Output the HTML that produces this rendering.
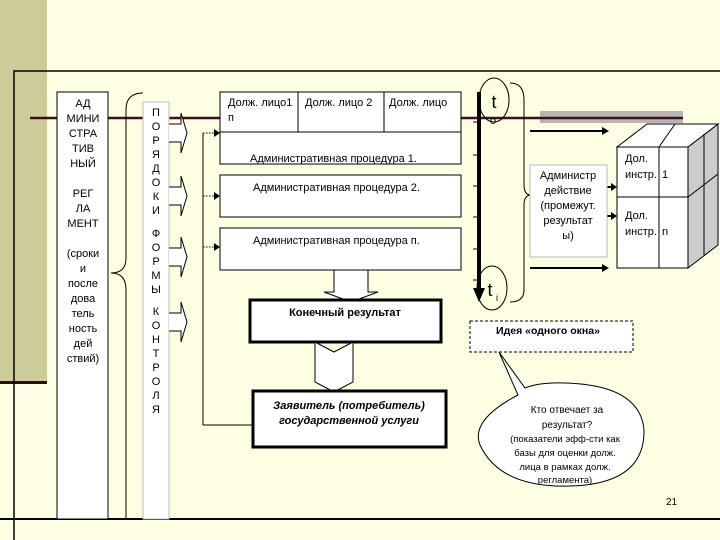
<!DOCTYPE html>
<html><head><meta charset="utf-8"><style>
html,body{margin:0;padding:0;background:#fefee2}
svg{display:block;font-family:"Liberation Sans",sans-serif;font-size:11px}
</style></head><body>
<svg width="720" height="540" viewBox="0 0 720 540" xmlns="http://www.w3.org/2000/svg" font-size="11" font-family="Liberation Sans, sans-serif">
<rect width="720" height="540" fill="#fefee2"/>
<rect x="0" y="0" width="47" height="383" fill="#cccc99"/>
<rect x="0" y="381" width="47" height="3" fill="#2b0b1a"/>
<path d="M14 540 V71 H720" fill="none" stroke="#000" stroke-width="1.5"/>
<line x1="0" y1="519" x2="720" y2="519" stroke="#000" stroke-width="2"/>
<rect x="540" y="111" width="143" height="12" fill="#b8b4b0"/>
<line x1="30" y1="118" x2="683" y2="118" stroke="#3b0f1f" stroke-width="2.5"/>

<!-- ADM box -->
<rect x="57" y="92" width="51" height="427" fill="#fff" stroke="#000"/>
<g text-anchor="middle">
<text x="83" y="107">АД</text><text x="83" y="122">МИНИ</text><text x="83" y="137">СТРА</text><text x="83" y="152">ТИВ</text><text x="83" y="167">НЫЙ</text>
<text x="83" y="197">РЕГ</text><text x="83" y="212">ЛА</text><text x="83" y="227">МЕНТ</text>
<text x="83" y="257">(сроки</text><text x="83" y="272">и</text><text x="83" y="287">после</text><text x="83" y="302">дова</text><text x="83" y="317">тель</text><text x="83" y="332">ность</text><text x="83" y="347">дей</text><text x="83" y="362">ствий)</text>
</g>
<path d="M143 93 Q126 93 126 110 V258 Q126 273 111 273 Q126 273 126 290 V519" fill="none" stroke="#000"/>
<rect x="143" y="102" width="26" height="417" fill="#fff" stroke="#bbb"/>
<g text-anchor="middle">
<text x="156" y="116">П</text><text x="156" y="130">О</text><text x="156" y="144">Р</text><text x="156" y="158">Я</text><text x="156" y="172">Д</text><text x="156" y="186">О</text><text x="156" y="200">К</text><text x="156" y="214">И</text>
<text x="156" y="237">Ф</text><text x="156" y="251">О</text><text x="156" y="265">Р</text><text x="156" y="279">М</text><text x="156" y="293">Ы</text>
<text x="156" y="315">К</text><text x="156" y="329">О</text><text x="156" y="343">Н</text><text x="156" y="357">Т</text><text x="156" y="371">Р</text><text x="156" y="385">О</text><text x="156" y="399">Л</text><text x="156" y="413">Я</text>
</g>
<g fill="#fff" stroke="#000">
<path d="M169 124 H181 V113 L187 133 L181 153 V142 H169"/>
<path d="M169 187 H181 V176 L187 196 L181 216 V205 H169"/>
<path d="M169 248 H181 V237 L187 257 L181 277 V266 H169"/>
<path d="M169 313 H181 V302 L187 322 L181 342 V331 H169"/>
</g>
<path d="M203 425 V133 M203 425 H253" fill="none" stroke="#000"/>
<g stroke="#000" stroke-dasharray="1.5 1.5"><line x1="203" y1="133" x2="215" y2="133"/><line x1="203" y1="196" x2="215" y2="196"/><line x1="203" y1="247" x2="215" y2="247"/></g>
<g fill="#000"><path d="M214 129 L220 133 L214 137Z"/><path d="M214 192 L220 196 L214 200Z"/><path d="M214 243 L220 247 L214 251Z"/></g>
<g fill="#fff" stroke="#000">
<rect x="220" y="92" width="241" height="72"/>
<rect x="220" y="175" width="241" height="42"/>
<rect x="220" y="228" width="241" height="42"/>
</g>
<path d="M220 132 H461 M298 92 V132 M384 92 V132" stroke="#000" fill="none"/>
<text x="228" y="106">Долж. лицо1</text><text x="228" y="121">п</text>
<text x="305" y="106">Долж. лицо 2</text><text x="389" y="106">Долж. лицо</text>
<text x="250" y="162">Административная процедура 1.</text>
<text x="253" y="191">Административная процедура 2.</text>
<text x="253" y="244">Административная процедура п.</text>
<path d="M334 270 H368 V292 H378 L351 302 L324 292 H334Z" fill="#fff" stroke="#000"/>
<rect x="250" y="300" width="191" height="42" fill="#fff" stroke="#000" stroke-width="3"/>
<text x="345" y="316" text-anchor="middle" font-weight="bold">Конечный результат</text>
<path d="M315 342 L334 352 L353 342 V382 L334 392 L315 382Z" fill="#fff" stroke="#000"/>
<rect x="253" y="391" width="193" height="56" fill="#fff" stroke="#000" stroke-width="3"/>
<text x="349" y="409" text-anchor="middle" font-weight="bold" font-style="italic">Заявитель (потребитель)</text>
<text x="349" y="424" text-anchor="middle" font-weight="bold" font-style="italic">государственной услуги</text>
<g stroke="#000"><line x1="473" y1="122" x2="479" y2="122"/><line x1="473" y1="155" x2="479" y2="155"/><line x1="473" y1="186" x2="479" y2="186"/><line x1="473" y1="217" x2="479" y2="217"/><line x1="473" y1="249" x2="479" y2="249"/><line x1="473" y1="280" x2="479" y2="280"/></g>
<line x1="479" y1="92" x2="479" y2="290" stroke="#000" stroke-width="4"/>
<path d="M473 288 L485 288 L479 302Z" fill="#000"/>
<ellipse cx="494" cy="100" rx="15" ry="22" fill="none" stroke="#000"/>
<text x="494" y="108" text-anchor="middle" font-size="18">t</text><text x="493" y="124" text-anchor="middle" font-size="11">o</text>
<ellipse cx="492" cy="288" rx="15" ry="22" fill="none" stroke="#000"/>
<text x="490" y="296" text-anchor="middle" font-size="18">t</text><text x="496" y="301" font-size="9">i</text>
<path d="M510 83 Q524 83 524 100 V185 Q524 195 531 195 Q524 195 524 205 V290 Q524 302 510 302" fill="none" stroke="#000"/>
<g stroke="#000" stroke-width="2"><line x1="530" y1="131" x2="603" y2="131"/><line x1="530" y1="268" x2="603" y2="268"/><line x1="598" y1="187" x2="612" y2="187"/><line x1="598" y1="216" x2="612" y2="216"/></g>
<g fill="#000"><path d="M602 127 L609 131 L602 135Z"/><path d="M602 264 L609 268 L602 272Z"/><path d="M611 183 L617 187 L611 191Z"/><path d="M611 212 L617 216 L611 220Z"/></g>
<rect x="530" y="165" width="77" height="92" fill="#fff" stroke="#bbb"/>
<g text-anchor="middle"><text x="568" y="179">Администр</text><text x="568" y="194">действие</text><text x="568" y="209">(промежут.</text><text x="568" y="224">результат</text><text x="568" y="239">ы)</text></g>
<path d="M688 147 L718 124 V245 L688 268Z" fill="#ccc" stroke="#000"/>
<path d="M617 147 L647 124 H718 L688 147Z" fill="#fff" stroke="#000"/>
<rect x="617" y="147" width="71" height="121" fill="#fff" stroke="#000"/>
<path d="M617 197 H688 L718 174 M659 268 V147 L675 124 M704 134 V255" fill="none" stroke="#000"/>
<text x="625" y="162">Дол.</text><text x="625" y="178">инстр.</text><text x="662" y="178">1</text>
<text x="625" y="219">Дол.</text><text x="625" y="235">инстр.</text><text x="662" y="235">n</text>
<rect x="470" y="321" width="163" height="31" fill="#fff" stroke="#000" stroke-dasharray="3 2"/>
<text x="548" y="334" text-anchor="middle" font-weight="bold" font-size="10.5">Идея «одного окна»</text>
<path d="M499 352 L518 395 Q470 420 480 445 Q500 488 570 486 Q645 484 644 430 Q640 385 565 383 Q540 382 525 388 Z" fill="#fff" stroke="#000"/>
<g text-anchor="middle" font-size="10"><text x="567" y="413">Кто отвечает за</text><text x="567" y="428">результат?</text><text x="565" y="442" font-size="9.5">(показатели  эфф-сти как</text><text x="565" y="456" font-size="9.5">базы для оценки долж.</text><text x="565" y="470" font-size="9.5">лица в рамках долж.</text><text x="565" y="483" font-size="9.5">регламента)</text></g>
<text x="666" y="505" font-size="10">21</text>
</svg>
</body></html>
